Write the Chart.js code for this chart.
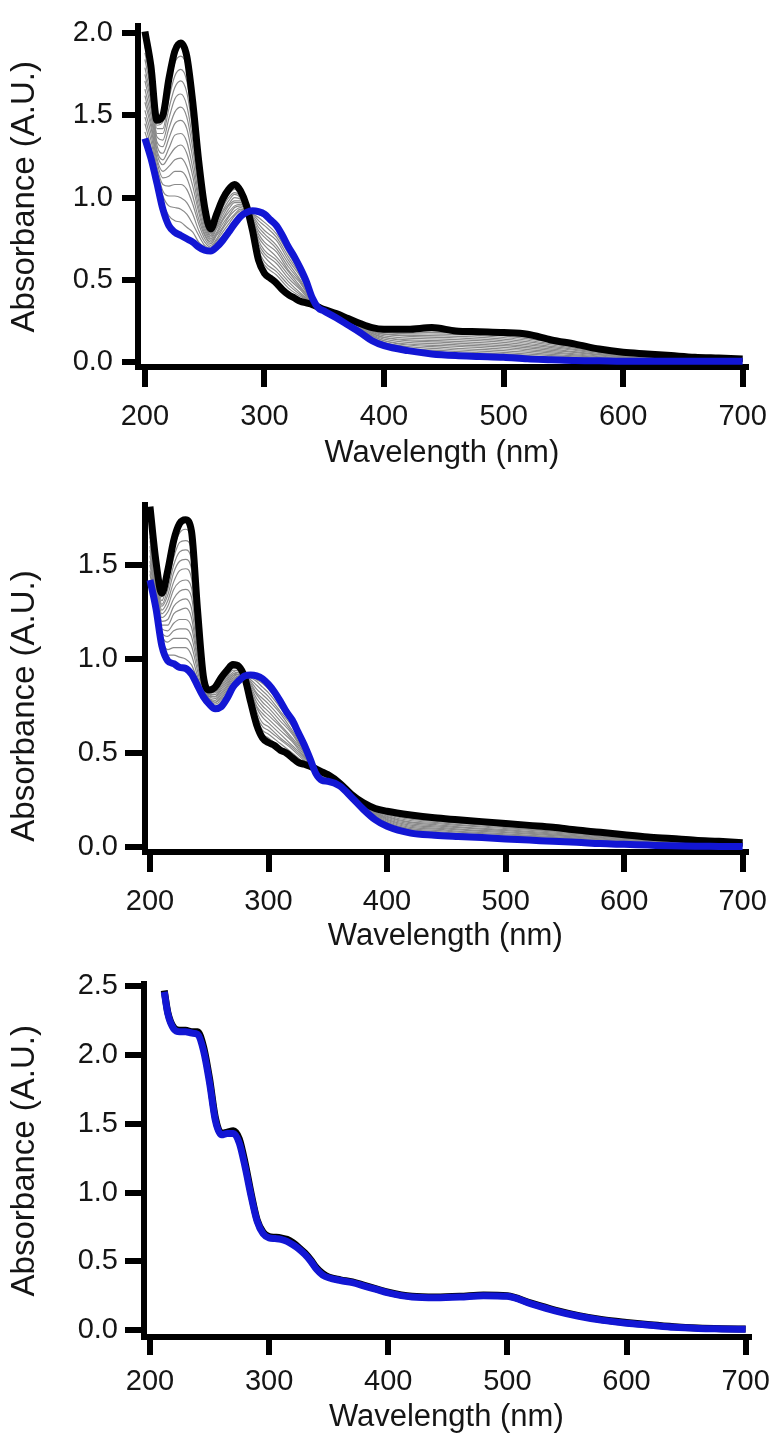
<!DOCTYPE html>
<html><head><meta charset="utf-8">
<script src="https://cdn.jsdelivr.net/npm/chart.js@4/dist/chart.umd.min.js"></script>
<style>
html,body{margin:0;padding:0;background:#fff;}
body{width:780px;height:1439px;position:relative;overflow:hidden;}
canvas{position:absolute;left:0;}
</style></head><body>
<canvas id="c1" width="780" height="480" style="top:0px;width:780px;height:480px"></canvas>
<canvas id="c2" width="780" height="480" style="top:480px;width:780px;height:480px"></canvas>
<canvas id="c3" width="780" height="479" style="top:960px;width:780px;height:479px"></canvas>
<script>
// ---------- data ----------
const xTicks = [200, 300, 400, 500, 600, 700];
const p1YTicks = [0, 0.5, 1.0, 1.5, 2.0];
const p2YTicks = [0, 0.5, 1.0, 1.5];
const p3YTicks = [0, 0.5, 1.0, 1.5, 2.0, 2.5];

const wavelengths = [200,205,210,215,220,225,230,235,240,245,250,255,260,265,270,275,280,285,290,295,300,305,310,315,320,325,330,335,340,345,350,360,370,380,390,400,420,440,460,480,500,520,540,560,580,600,620,640,660,680,700];

const p1Black = [2.01,1.80,1.47,1.50,1.72,1.89,1.94,1.86,1.58,1.22,0.94,0.81,0.90,0.99,1.05,1.08,1.04,0.95,0.80,0.62,0.54,0.51,0.48,0.44,0.41,0.39,0.37,0.36,0.35,0.335,0.32,0.295,0.265,0.235,0.21,0.20,0.20,0.21,0.19,0.185,0.18,0.17,0.135,0.11,0.08,0.06,0.05,0.04,0.03,0.025,0.02];
const p1Blue = [1.36,1.24,1.09,0.93,0.83,0.79,0.77,0.75,0.73,0.70,0.68,0.675,0.70,0.74,0.79,0.84,0.885,0.91,0.92,0.915,0.90,0.865,0.83,0.77,0.70,0.64,0.57,0.49,0.39,0.33,0.31,0.27,0.225,0.18,0.13,0.10,0.07,0.05,0.04,0.035,0.03,0.02,0.015,0.01,0.008,0.005,0.005,0.005,0.005,0.005,0.005];

const greyWavelengths = [200,205,210,215,220,225,230,235,240,245,250,255,260,265,270,275,280,285,290,295,300,310,320,330,340,350,370,400,450,500,550,600,650,700];

const p1Grey = [
[1.97,1.76,1.44,1.46,1.66,1.82,1.86,1.79,1.52,1.19,0.92,0.80,0.89,0.97,1.03,1.06,1.03,0.95,0.81,0.64,0.56,0.50,0.43,0.38,0.35,0.32,0.26,0.19,0.19,0.17,0.117,0.056,0.033,0.019],
[1.92,1.73,1.42,1.42,1.60,1.74,1.78,1.71,1.47,1.15,0.91,0.79,0.87,0.96,1.02,1.05,1.02,0.94,0.82,0.66,0.59,0.53,0.45,0.40,0.36,0.32,0.26,0.19,0.18,0.16,0.110,0.053,0.031,0.018],
[1.88,1.69,1.39,1.39,1.54,1.67,1.71,1.64,1.41,1.12,0.89,0.78,0.86,0.94,1.00,1.03,1.01,0.94,0.82,0.68,0.61,0.55,0.47,0.41,0.36,0.32,0.26,0.18,0.17,0.15,0.102,0.049,0.029,0.017],
[1.84,1.65,1.37,1.35,1.48,1.60,1.63,1.56,1.35,1.08,0.87,0.77,0.85,0.92,0.98,1.02,1.00,0.94,0.83,0.70,0.64,0.57,0.49,0.42,0.36,0.32,0.25,0.17,0.16,0.14,0.095,0.045,0.027,0.016],
[1.79,1.61,1.34,1.31,1.42,1.52,1.55,1.49,1.30,1.05,0.85,0.77,0.83,0.91,0.96,1.00,0.99,0.94,0.84,0.72,0.66,0.60,0.51,0.44,0.36,0.32,0.25,0.17,0.15,0.13,0.087,0.042,0.025,0.015],
[1.75,1.58,1.32,1.27,1.36,1.45,1.47,1.42,1.24,1.01,0.84,0.76,0.82,0.89,0.95,0.98,0.98,0.93,0.85,0.74,0.68,0.62,0.53,0.45,0.37,0.32,0.25,0.16,0.14,0.12,0.080,0.038,0.023,0.014],
[1.71,1.54,1.29,1.23,1.30,1.38,1.39,1.34,1.18,0.98,0.82,0.75,0.81,0.87,0.93,0.97,0.97,0.93,0.86,0.76,0.71,0.64,0.55,0.46,0.37,0.32,0.25,0.15,0.13,0.11,0.072,0.034,0.021,0.013],
[1.66,1.50,1.27,1.20,1.25,1.30,1.32,1.27,1.13,0.94,0.80,0.74,0.79,0.86,0.91,0.95,0.96,0.93,0.86,0.78,0.73,0.67,0.56,0.48,0.37,0.31,0.24,0.15,0.12,0.10,0.065,0.031,0.019,0.012],
[1.62,1.46,1.24,1.16,1.19,1.23,1.24,1.19,1.07,0.91,0.78,0.73,0.78,0.84,0.89,0.94,0.95,0.93,0.87,0.80,0.76,0.69,0.58,0.49,0.37,0.31,0.24,0.14,0.11,0.09,0.057,0.027,0.017,0.011],
[1.58,1.43,1.22,1.12,1.13,1.16,1.16,1.12,1.01,0.87,0.77,0.72,0.77,0.82,0.88,0.92,0.94,0.92,0.88,0.82,0.78,0.71,0.60,0.50,0.38,0.31,0.24,0.13,0.10,0.08,0.050,0.023,0.015,0.010],
[1.53,1.39,1.19,1.08,1.07,1.08,1.08,1.05,0.96,0.84,0.75,0.71,0.75,0.81,0.86,0.90,0.93,0.92,0.89,0.84,0.80,0.74,0.62,0.52,0.38,0.31,0.24,0.13,0.09,0.07,0.042,0.020,0.013,0.009],
[1.49,1.35,1.17,1.04,1.01,1.01,1.00,0.97,0.90,0.80,0.73,0.70,0.74,0.79,0.84,0.89,0.92,0.92,0.90,0.86,0.83,0.76,0.64,0.53,0.38,0.31,0.23,0.12,0.08,0.06,0.035,0.016,0.011,0.008],
[1.45,1.31,1.14,1.01,0.95,0.94,0.93,0.90,0.84,0.77,0.71,0.69,0.73,0.77,0.82,0.87,0.91,0.92,0.90,0.88,0.85,0.78,0.66,0.54,0.38,0.31,0.23,0.11,0.07,0.05,0.027,0.012,0.009,0.007],
[1.40,1.28,1.12,0.97,0.89,0.86,0.85,0.82,0.79,0.73,0.70,0.68,0.71,0.76,0.81,0.86,0.90,0.91,0.91,0.90,0.88,0.81,0.68,0.56,0.39,0.31,0.23,0.11,0.06,0.04,0.020,0.009,0.007,0.006]
];

const p2Black = [1.81,1.52,1.35,1.47,1.63,1.72,1.74,1.68,1.27,0.91,0.835,0.85,0.90,0.94,0.97,0.96,0.90,0.77,0.65,0.58,0.555,0.54,0.515,0.50,0.475,0.45,0.44,0.43,0.415,0.40,0.385,0.34,0.28,0.235,0.205,0.19,0.17,0.155,0.145,0.135,0.125,0.115,0.105,0.09,0.078,0.065,0.053,0.045,0.036,0.03,0.023];
const p2Blue = [1.42,1.27,1.07,0.99,0.975,0.955,0.95,0.92,0.86,0.80,0.76,0.735,0.745,0.79,0.85,0.885,0.91,0.915,0.91,0.895,0.865,0.825,0.775,0.72,0.675,0.61,0.545,0.47,0.39,0.355,0.35,0.325,0.265,0.20,0.145,0.11,0.074,0.063,0.056,0.05,0.043,0.037,0.03,0.025,0.018,0.014,0.01,0.006,0.004,0.003,0.002];

const p2Grey = [
[1.78,1.50,1.33,1.44,1.59,1.67,1.69,1.63,1.24,0.90,0.83,0.84,0.89,0.93,0.96,0.96,0.90,0.78,0.67,0.60,0.58,0.53,0.49,0.45,0.41,0.38,0.28,0.185,0.144,0.120,0.093,0.062,0.038,0.022],
[1.76,1.49,1.31,1.41,1.54,1.62,1.63,1.58,1.22,0.90,0.83,0.83,0.88,0.92,0.95,0.95,0.90,0.79,0.68,0.62,0.60,0.55,0.50,0.45,0.41,0.38,0.28,0.179,0.138,0.114,0.089,0.058,0.035,0.020],
[1.73,1.47,1.29,1.37,1.50,1.57,1.58,1.53,1.19,0.89,0.82,0.83,0.87,0.91,0.95,0.95,0.90,0.80,0.70,0.64,0.62,0.57,0.52,0.46,0.41,0.38,0.28,0.174,0.132,0.109,0.084,0.055,0.033,0.019],
[1.71,1.45,1.28,1.34,1.46,1.52,1.53,1.48,1.16,0.88,0.82,0.82,0.86,0.90,0.94,0.94,0.90,0.81,0.72,0.66,0.64,0.58,0.53,0.47,0.41,0.38,0.28,0.169,0.126,0.103,0.079,0.051,0.031,0.017],
[1.68,1.44,1.26,1.31,1.41,1.47,1.48,1.43,1.13,0.87,0.81,0.81,0.85,0.89,0.93,0.94,0.90,0.82,0.74,0.69,0.66,0.60,0.54,0.48,0.41,0.37,0.28,0.163,0.120,0.098,0.075,0.048,0.028,0.016],
[1.65,1.42,1.24,1.28,1.37,1.41,1.42,1.38,1.11,0.87,0.81,0.80,0.84,0.88,0.92,0.93,0.90,0.83,0.75,0.71,0.68,0.62,0.56,0.48,0.41,0.37,0.27,0.158,0.114,0.092,0.070,0.045,0.026,0.015],
[1.63,1.40,1.22,1.25,1.32,1.36,1.37,1.33,1.08,0.86,0.80,0.80,0.83,0.87,0.91,0.93,0.90,0.84,0.77,0.73,0.70,0.64,0.57,0.49,0.40,0.37,0.27,0.153,0.108,0.087,0.065,0.041,0.024,0.013],
[1.60,1.39,1.20,1.21,1.28,1.31,1.32,1.27,1.05,0.85,0.80,0.79,0.82,0.86,0.91,0.92,0.91,0.85,0.79,0.75,0.72,0.65,0.58,0.50,0.40,0.37,0.27,0.147,0.102,0.081,0.061,0.038,0.021,0.012],
[1.58,1.37,1.18,1.18,1.24,1.26,1.27,1.22,1.02,0.84,0.79,0.78,0.81,0.85,0.90,0.92,0.91,0.86,0.81,0.77,0.74,0.67,0.60,0.50,0.40,0.36,0.27,0.142,0.096,0.076,0.056,0.034,0.019,0.010],
[1.55,1.35,1.16,1.15,1.19,1.21,1.21,1.17,1.00,0.84,0.79,0.77,0.80,0.84,0.89,0.91,0.91,0.87,0.82,0.79,0.76,0.69,0.61,0.51,0.40,0.36,0.27,0.137,0.090,0.070,0.051,0.031,0.017,0.009],
[1.52,1.34,1.14,1.12,1.15,1.16,1.16,1.12,0.97,0.83,0.78,0.77,0.79,0.83,0.88,0.91,0.91,0.88,0.84,0.81,0.78,0.71,0.62,0.52,0.40,0.36,0.27,0.131,0.084,0.065,0.047,0.028,0.014,0.008],
[1.50,1.32,1.13,1.09,1.11,1.11,1.11,1.07,0.94,0.82,0.78,0.76,0.78,0.82,0.87,0.90,0.91,0.89,0.86,0.83,0.80,0.72,0.64,0.52,0.40,0.36,0.27,0.126,0.078,0.059,0.042,0.024,0.012,0.006],
[1.47,1.30,1.11,1.05,1.06,1.06,1.06,1.02,0.91,0.81,0.77,0.75,0.77,0.81,0.87,0.90,0.91,0.90,0.88,0.85,0.82,0.74,0.65,0.53,0.39,0.35,0.27,0.121,0.072,0.054,0.037,0.021,0.010,0.005],
[1.45,1.29,1.09,1.02,1.02,1.01,1.00,0.97,0.89,0.81,0.77,0.74,0.76,0.80,0.86,0.89,0.91,0.91,0.89,0.87,0.84,0.76,0.66,0.54,0.39,0.35,0.27,0.115,0.066,0.048,0.033,0.017,0.007,0.003]
];

const p3Wavelengths = [212,215,220,225,230,235,240,245,250,255,260,265,270,275,280,285,290,295,300,305,310,315,320,325,330,335,340,345,350,360,370,380,390,400,420,440,460,480,500,520,540,560,580,600,620,640,660,680,700];
const p3Black = [2.47,2.31,2.20,2.18,2.18,2.17,2.17,2.06,1.83,1.54,1.43,1.44,1.45,1.39,1.21,0.99,0.80,0.71,0.68,0.675,0.67,0.66,0.635,0.60,0.56,0.51,0.45,0.41,0.385,0.365,0.35,0.325,0.30,0.275,0.245,0.24,0.245,0.255,0.25,0.195,0.145,0.105,0.075,0.055,0.038,0.024,0.015,0.01,0.007];
const p3Blue = [2.46,2.30,2.19,2.17,2.17,2.16,2.15,2.03,1.80,1.52,1.42,1.43,1.43,1.36,1.18,0.97,0.79,0.70,0.67,0.665,0.66,0.645,0.62,0.59,0.55,0.50,0.44,0.40,0.38,0.36,0.345,0.32,0.295,0.27,0.24,0.235,0.24,0.25,0.245,0.19,0.14,0.10,0.07,0.05,0.035,0.02,0.012,0.008,0.005];

// ---------- drawing ----------
const FONT = "'Liberation Sans', Arial, Helvetica, sans-serif";
const BLUE = 'rgb(18,22,212)';
const GREY = '#8a8a8a';

function pts(xs, ys) { return xs.map((x, i) => ({ x: x, y: ys[i] })); }

function makePanel(id, p) {
  const datasets = [];
  datasets.push({ data: pts(p.blueX, p.blue), borderColor: BLUE, borderWidth: 7, order: 0 });
  datasets.push({ data: pts(p.blackX, p.black), borderColor: '#000', borderWidth: 7, order: 1 });
  (p.greys || []).forEach(g => {
    datasets.push({ data: pts(greyWavelengths, g), borderColor: GREY, borderWidth: 1.2, order: 2 });
  });
  const canvasH = p.canvasH;
  new Chart(document.getElementById(id), {
    type: 'line',
    data: { datasets: datasets },
    options: {
      responsive: false, animation: false, devicePixelRatio: 1, events: [],
      layout: { padding: { top: p.top, left: 0, right: 780 - p.right, bottom: 0 } },
      plugins: { legend: { display: false }, tooltip: { enabled: false }, title: { display: false } },
      elements: {
        point: { radius: 0 },
        line: { cubicInterpolationMode: 'monotone', borderJoinStyle: 'round', borderCapStyle: 'butt', fill: false }
      },
      scales: {
        x: {
          type: 'linear', min: p.xMin, max: p.xMax,
          afterBuildTicks: s => { s.ticks = xTicks.map(v => ({ value: v })); },
          afterFit: s => { s.height = canvasH - p.bottom; },
          border: { display: true, width: 6, color: '#000' },
          grid: { display: true, drawOnChartArea: false, drawTicks: true, tickLength: p.xTickLen, tickWidth: 6, tickColor: '#000', lineWidth: 6, color: '#000' },
          ticks: { padding: p.xTickPad, color: '#151515', font: { family: FONT, size: 29 }, maxRotation: 0, autoSkip: false, callback: v => String(v) },
          title: { display: true, text: 'Wavelength (nm)', color: '#151515', font: { family: FONT, size: 31 }, padding: { top: 0, bottom: p.xTitlePad } }
        },
        y: {
          type: 'linear', min: p.yMin, max: p.yMax,
          afterBuildTicks: s => { s.ticks = p.yTicks.map(v => ({ value: v })); },
          afterFit: s => { s.width = p.left; },
          border: { display: true, width: 6, color: '#000' },
          grid: { display: true, drawOnChartArea: false, drawTicks: true, tickLength: p.yTickLen, tickWidth: 6, tickColor: '#000', lineWidth: 6, color: '#000' },
          ticks: { padding: p.yTickPad, color: '#151515', font: { family: FONT, size: 29 }, autoSkip: false, callback: v => Number(v).toFixed(1) },
          title: { display: true, text: p.yTitle, color: '#151515', font: { family: FONT, size: 33 }, padding: { top: 5, bottom: 0 } }
        }
      }
    }
  });
}

makePanel('c1', {
  canvasH: 480, left: 138, right: 752, top: 15, bottom: 367,
  xMin: 194.2, xMax: 702.5, yMin: -0.0294, yMax: 2.041, yTicks: p1YTicks,
  xTickLen: 20, xTickPad: 13, yTickLen: 16, yTickPad: 9, xTitlePad: 8,
  yTitle: 'Absorbance (A.U.)',
  blackX: wavelengths, black: p1Black, blueX: wavelengths, blue: p1Blue, greys: p1Grey
});
makePanel('c2', {
  canvasH: 480, left: 145, right: 750, top: 25, bottom: 372,
  xMin: 195.8, xMax: 702.5, yMin: -0.0266, yMax: 1.819, yTicks: p2YTicks,
  xTickLen: 20, xTickPad: 13, yTickLen: 20, yTickPad: 7, xTitlePad: 5,
  yTitle: 'Absorbance (A.U.)      ',
  blackX: wavelengths, black: p2Black, blueX: wavelengths, blue: p2Blue, greys: p2Grey
});
makePanel('c3', {
  canvasH: 479, left: 144, right: 750, top: 23, bottom: 377,
  xMin: 195.0, xMax: 702.5, yMin: -0.0507, yMax: 2.514, yTicks: p3YTicks,
  xTickLen: 18, xTickPad: 10, yTickLen: 19, yTickPad: 7, xTitlePad: 3,
  yTitle: 'Absorbance (A.U.)',
  blackX: p3Wavelengths, black: p3Black, blueX: p3Wavelengths, blue: p3Blue, greys: []
});
</script>
</body></html>
